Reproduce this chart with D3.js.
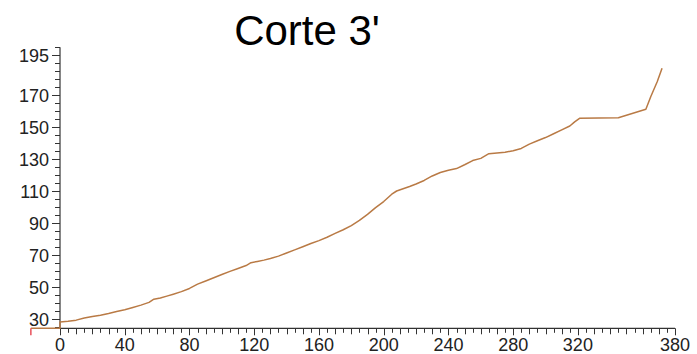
<!DOCTYPE html>
<html>
<head>
<meta charset="utf-8">
<script src="https://cdn.jsdelivr.net/npm/d3@7"></script>
<style>
  html, body { margin: 0; padding: 0; background: #fff; }
  svg { display: block; font-family: "Liberation Sans", Arial, sans-serif; }
</style>
</head>
<body>
<svg id="chart" width="697" height="354"></svg>
<script>
// Curve samples: distance along the cut (x) and level (y)
const xValues = [-18, 0, 0, 5, 10, 15, 20, 25, 30, 35, 40, 45, 50, 55, 58, 62, 66, 70, 75, 80,
  85, 90, 95, 100, 105, 110, 115, 118, 122, 126, 130, 135, 140, 145, 150, 155, 160, 165, 170, 175,
  180, 185, 190, 195, 200, 205, 208, 212, 216, 220, 225, 230, 235, 240, 245, 250, 255, 260, 265, 270,
  275, 280, 285, 290, 295, 300, 305, 310, 315, 318, 321, 345, 362, 365, 369, 372];
const yValues = [24.4, 24.4, 28.3, 28.8, 29.5, 30.8, 31.8, 32.6, 33.6, 34.9, 36.0, 37.4, 38.9, 40.6, 42.6, 43.3, 44.5, 45.7, 47.3, 49.3,
  52.0, 54.0, 56.0, 58.0, 60.0, 61.8, 63.6, 65.4, 66.2, 67.0, 68.0, 69.5, 71.5, 73.4, 75.4, 77.4, 79.2, 81.3, 83.7, 86.0,
  88.6, 91.8, 95.6, 99.8, 103.6, 108.2, 110.2, 111.6, 113.0, 114.6, 116.8, 119.6, 121.8, 123.2, 124.2, 126.6, 129.2, 130.6, 133.5, 134.0,
  134.4, 135.4, 136.8, 139.5, 141.6, 143.6, 146.0, 148.4, 150.8, 153.4, 155.6, 156.0, 161.3, 169.1, 178.5, 186.9];

// Red marker at the start of the curve
const markerX = [-18];

// Tick labels
const xTickLabels = [0, 40, 80, 120, 160, 200, 240, 280, 320, 380];
const yTickLabels = [30, 50, 70, 90, 110, 130, 150, 170, 195];

const title = "Corte 3'";

const svg = d3.select("#chart");
const x = d3.scaleLinear().domain([0, 380]).range([60, 675]);
const y = d3.scaleLinear().domain([24.4, 200]).range([328.3, 47.3]);

const axisColor = "#333";
const labelColor = "#222";

// Minor ticks every 5 units on both axes
const xMinor = d3.range(0, 381, 5);
const yMinor = d3.range(25, 201, 5);

// X axis
const xAxis = svg.append("g");
xAxis.append("line")
  .attr("x1", x(0)).attr("x2", x(380))
  .attr("y1", y(24.4)).attr("y2", y(24.4))
  .attr("stroke", axisColor).attr("stroke-width", 1.2);
xAxis.selectAll("line.tick").data(xMinor).join("line")
  .attr("class", "tick")
  .attr("x1", d => Math.round(x(d)) + 0.5).attr("x2", d => Math.round(x(d)) + 0.5)
  .attr("y1", y(24.4))
  .attr("y2", d => y(24.4) + (xTickLabels.includes(d) ? 7 : (d % 10 === 0 ? 6 : 4.5)))
  .attr("stroke", axisColor).attr("stroke-width", 1);
xAxis.selectAll("text").data(xTickLabels).join("text")
  .attr("x", d => x(d)).attr("y", 351)
  .attr("text-anchor", "middle")
  .attr("font-size", 18).attr("fill", labelColor)
  .text(d => d);

// Y axis
const yAxis = svg.append("g");
yAxis.append("line")
  .attr("x1", x(0)).attr("x2", x(0))
  .attr("y1", y(24.4)).attr("y2", y(200))
  .attr("stroke", axisColor).attr("stroke-width", 1.2);
yAxis.selectAll("line.tick").data(yMinor).join("line")
  .attr("class", "tick")
  .attr("y1", d => Math.round(y(d)) + 0.5).attr("y2", d => Math.round(y(d)) + 0.5)
  .attr("x1", x(0))
  .attr("x2", d => x(0) - (yTickLabels.includes(d) ? 8 : 5))
  .attr("stroke", axisColor).attr("stroke-width", 1);
yAxis.selectAll("text").data(yTickLabels).join("text")
  .attr("x", 49).attr("y", d => y(d))
  .attr("dy", "0.35em")
  .attr("text-anchor", "end")
  .attr("font-size", 18).attr("fill", labelColor)
  .text(d => d);

// Curve
const points = xValues.map((v, i) => [v, yValues[i]]);
const line = d3.line().x(d => x(d[0])).y(d => y(d[1]));
svg.append("path")
  .datum(points)
  .attr("d", line)
  .attr("fill", "none")
  .attr("stroke", "#b97a45")
  .attr("stroke-width", 1.5)
  .attr("stroke-linejoin", "round");

// Red start marker
svg.selectAll("line.marker").data(markerX).join("line")
  .attr("class", "marker")
  .attr("x1", d => x(d)).attr("x2", d => x(d))
  .attr("y1", y(24.4)).attr("y2", y(24.4) + 7)
  .attr("stroke", "#e8505a").attr("stroke-width", 1.5);

// Title
svg.append("text")
  .attr("x", 307).attr("y", 45)
  .attr("text-anchor", "middle")
  .attr("font-size", 42).attr("fill", "#000")
  .text(title);
</script>
</body>
</html>
